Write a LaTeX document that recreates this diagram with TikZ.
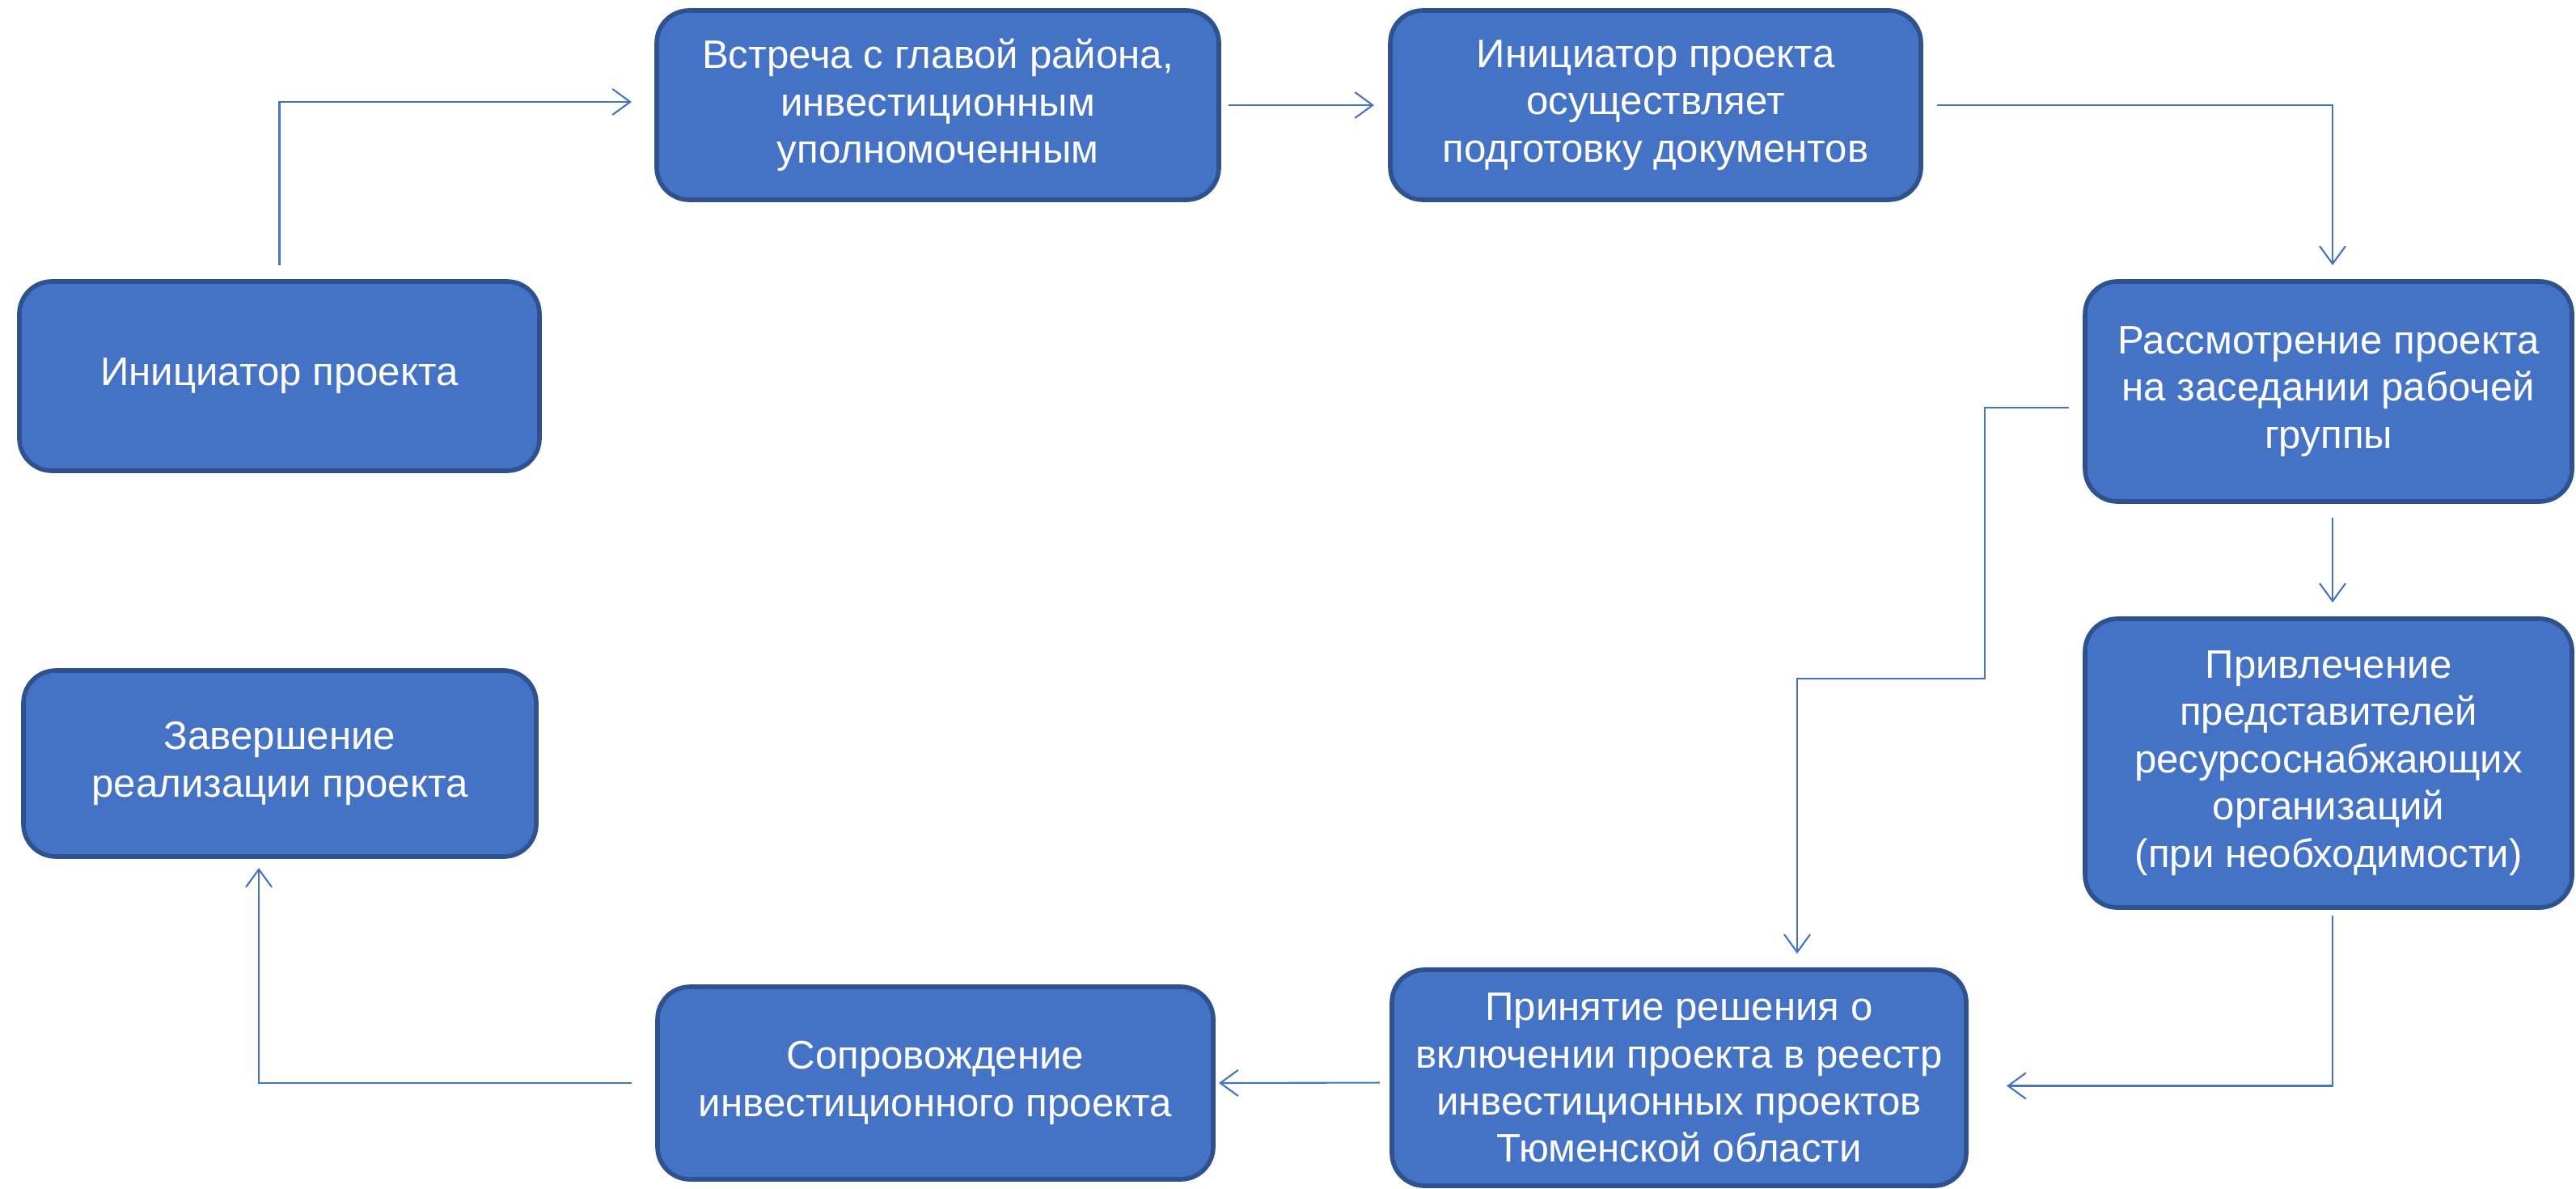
\documentclass[tikz,border=0pt]{standalone}
\usepackage{fontspec}
\setmainfont{Liberation Sans}
\usetikzlibrary{positioning, arrows.meta}

\definecolor{boxblue}{HTML}{4472C4}
\definecolor{boxedge}{HTML}{2F528F}

\begin{document}
\begin{tikzpicture}[
    stepbox/.style={draw=boxedge, fill=boxblue, line width=1.6pt, rounded corners=0.4cm,
        text=white, align=center, inner sep=0pt, outer sep=0pt,
        font=\fontsize{14pt}{16.6pt}\selectfont},
    link/.style={draw=boxblue, line width=0.6pt, shorten <=0.2cm, shorten >=0.2cm,
        -{Straight Barb[length=0.22cm, width=0.32cm]}}
]
    % tikz code goes here
    \useasboundingbox (0,0) rectangle (31.85,-14.70);
    \node[stepbox, minimum width=6.43cm, minimum height=2.34cm] at (3.455,-4.65) (1) {Инициатор проекта};
    \node[stepbox, minimum width=6.95cm, minimum height=2.34cm] at (11.595,-1.30) (2) {Встреча с главой района,\\ инвестиционным\\ уполномоченным};
    \node[stepbox, minimum width=6.56cm, minimum height=2.34cm] at (20.47,-1.30) (3) {Инициатор проекта\\ осуществляет\\ подготовку документов};
    \node[stepbox, minimum width=6.02cm, minimum height=2.72cm] at (28.79,-4.84) (4) {Рассмотрение проекта\\ на заседании рабочей\\ группы};
    \node[stepbox, minimum width=6.02cm, minimum height=3.57cm] at (28.79,-9.435) (5) {Привлечение\\ представителей\\ ресурсоснабжающих\\ организаций\\ (при необходимости)};
    \node[stepbox, minimum width=7.10cm, minimum height=2.67cm] at (20.76,-13.325) (6) {Принятие решения о\\ включении проекта в реестр\\ инвестиционных проектов\\ Тюменской области};
    \node[stepbox, minimum width=6.87cm, minimum height=2.38cm] at (11.565,-13.39) (7) {Сопровождение\\ инвестиционного проекта};
    \node[stepbox, minimum width=6.34cm, minimum height=2.30cm] at (3.46,-9.44) (8) {Завершение\\ реализации проекта};

    \coordinate (k) at (24.54,-8.39);

    \draw[link, shorten >=0.31cm] (1.north) |- ([yshift=0.04cm]2.west);
    \draw[link, shorten <=0.12cm] (2.east) -- (3.west);
    \draw[link] (3.east) -| ([xshift=0.05cm]4.north);
    \draw[link] ([xshift=0.05cm]4.south) -- ([xshift=0.05cm]5.north);
    \draw[link] ([yshift=-0.2cm]4.west) -| (k) -| ([xshift=1.46cm]6.north);
    \draw[link, shorten <=0.1cm, shorten >=0.5cm] ([xshift=0.05cm]5.south) |- ([yshift=-0.1cm]6.east);
    \draw[link, shorten <=0.15cm, shorten >=0.07cm] ([yshift=-0.06cm]6.west) -- (7.east);
    \draw[link, shorten <=0.32cm, shorten >=0.14cm] (7.west) -| ([xshift=-0.26cm]8.south);
\end{tikzpicture}
\end{document}
